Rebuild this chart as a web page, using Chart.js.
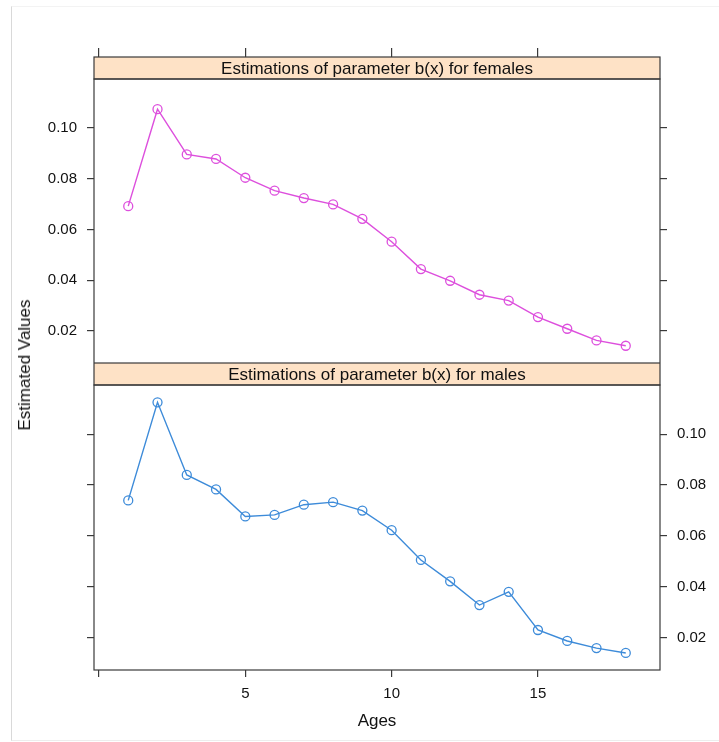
<!DOCTYPE html>
<html><head><meta charset="utf-8">
<script src="https://cdn.jsdelivr.net/npm/chart.js@4.4.1/dist/chart.umd.min.js"></script>
<style>
html,body{margin:0;padding:0;background:#fff;}
#wrap{position:relative;width:719px;height:742px;overflow:hidden;background:#fff;}
#frame{position:absolute;left:11px;top:6px;width:720px;height:733px;border-left:1px solid #d9d9d9;border-top:1px solid #f3f3f3;border-bottom:1px solid #ededed;}
canvas{position:absolute;left:0;}
#c1{top:0;}
#c2{top:363px;}
#ylab{position:absolute;left:25px;top:365px;transform:translate(-50%,-50%) rotate(-90deg);font:17px "Liberation Sans",Arial,Helvetica,sans-serif;white-space:nowrap;color:#111;}
</style></head><body>
<div id="wrap"><div id="frame"></div>
<canvas id="c1" width="719" height="363"></canvas>
<canvas id="c2" width="719" height="379"></canvas>
<div id="ylab">Estimated Values</div></div>
<script>
// ---- data ----
const ages = [1,2,3,4,5,6,7,8,9,10,11,12,13,14,15,16,17,18];
const females = [0.0692,0.1074,0.0896,0.0878,0.0804,0.0753,0.0724,0.0699,0.0642,0.0552,0.0444,0.0398,0.0343,0.0320,0.0255,0.0209,0.0163,0.0142];
const males = [0.0740,0.1125,0.0840,0.0783,0.0677,0.0683,0.0723,0.0733,0.0700,0.0623,0.0506,0.0422,0.0329,0.0381,0.0231,0.0188,0.0160,0.0141];
const xTicks = [0,5,10,15];
const yTicks = [0.02,0.04,0.06,0.08,0.10];
const stripFemales = 'Estimations of parameter b(x) for females';
const stripMales = 'Estimations of parameter b(x) for males';
const xTitle = 'Ages';
const xRange = [-0.17, 19.17];
const yRange = [0.0074, 0.1193];

// ---- styles ----
const FONT = '"Liberation Sans", Arial, Helvetica, sans-serif';
Chart.defaults.font.family = FONT;
Chart.defaults.color = '#111';
const AX = '#3a3a3a';
const STRIP_H = 22;

function stripPlugin(text){
  return {
    id:'strip',
    afterDraw(chart){
      const {ctx, chartArea:a} = chart;
      ctx.save();
      ctx.fillStyle = '#fee2c6';
      ctx.fillRect(a.left, a.top - STRIP_H, a.right - a.left, STRIP_H);
      ctx.strokeStyle = AX; ctx.lineWidth = 1.2;
      ctx.strokeRect(a.left, a.top - STRIP_H, a.right - a.left, STRIP_H);
      ctx.strokeRect(a.left, a.top, a.right - a.left, a.bottom - a.top);
      ctx.fillStyle = '#111';
      ctx.font = '17px ' + FONT;
      ctx.textAlign = 'center'; ctx.textBaseline = 'middle';
      ctx.fillText(text, (a.left + a.right)/2, a.top - STRIP_H/2 + 1);
      ctx.restore();
    }
  };
}

function setTicks(vals){ return s => { s.ticks = vals.map(v => ({value:v})); }; }
function fixSize(w, h){
  return s => {
    if (w !== null) s.width = w;
    if (h !== null) s.height = h;
    s.paddingTop = 0; s.paddingBottom = 0; s.paddingLeft = 0; s.paddingRight = 0;
  };
}
const fmtY = v => v.toFixed(2);
const fmtX = v => v === 0 ? '' : String(v);

function makeChart(id, values, color, top){
  const scales = {
    yL: {type:'linear', position:'left', min:yRange[0], max:yRange[1],
      afterBuildTicks:setTicks(yTicks), afterFit:fixSize(94, null),
      grid:{drawOnChartArea:false, tickLength:7, color:AX, lineWidth:1.2},
      border:{display:false},
      ticks:{padding:10, font:{size:15}, color:'#111', callback: v => top ? fmtY(v) : ''}},
    yR: {type:'linear', position:'right', min:yRange[0], max:yRange[1],
      afterBuildTicks:setTicks(yTicks), afterFit:fixSize(59, null),
      grid:{drawOnChartArea:false, tickLength:7, color:AX, lineWidth:1.2},
      border:{display:false},
      ticks:{padding:10, font:{size:15}, color:'#111', callback: v => top ? '' : fmtY(v)}},
    x: {type:'linear', position: top ? 'top' : 'bottom', min:xRange[0], max:xRange[1],
      afterBuildTicks:setTicks(xTicks), afterFit:fixSize(null, top ? 79 : 72),
      grid:{drawOnChartArea:false, tickLength: top ? 31 : 7, color:AX, lineWidth:1.2},
      border:{display:false},
      ticks:{padding:8, font:{size:15}, color:'#111', autoSkip:false, maxRotation:0,
        callback: v => top ? '' : fmtX(v)},
      title: top ? {display:false} : {display:true, text:xTitle, font:{size:17}, color:'#111', padding:{top:0,bottom:10}}}
  };
  return new Chart(document.getElementById(id), {
    type:'line',
    data:{datasets:[{
      data: ages.map((a,i)=>({x:a, y:values[i]})),
      xAxisID:'x', yAxisID:'yL',
      borderColor:color, borderWidth:1.4,
      pointRadius:4.5, pointBorderWidth:1.3, pointBorderColor:color,
      pointBackgroundColor:'rgba(0,0,0,0)', tension:0, fill:false
    }]},
    options:{
      responsive:false, animation:false, devicePixelRatio:1,
      layout:{autoPadding:false, padding:{top: top ? 0 : STRIP_H, left:0, right:0, bottom:0}},
      plugins:{legend:{display:false}, tooltip:{enabled:false}},
      scales
    },
    plugins:[stripPlugin(top ? stripFemales : stripMales)]
  });
}

makeChart('c1', females, '#dd4fdd', true);
makeChart('c2', males, '#3d8bd9', false);
</script>
</body></html>
